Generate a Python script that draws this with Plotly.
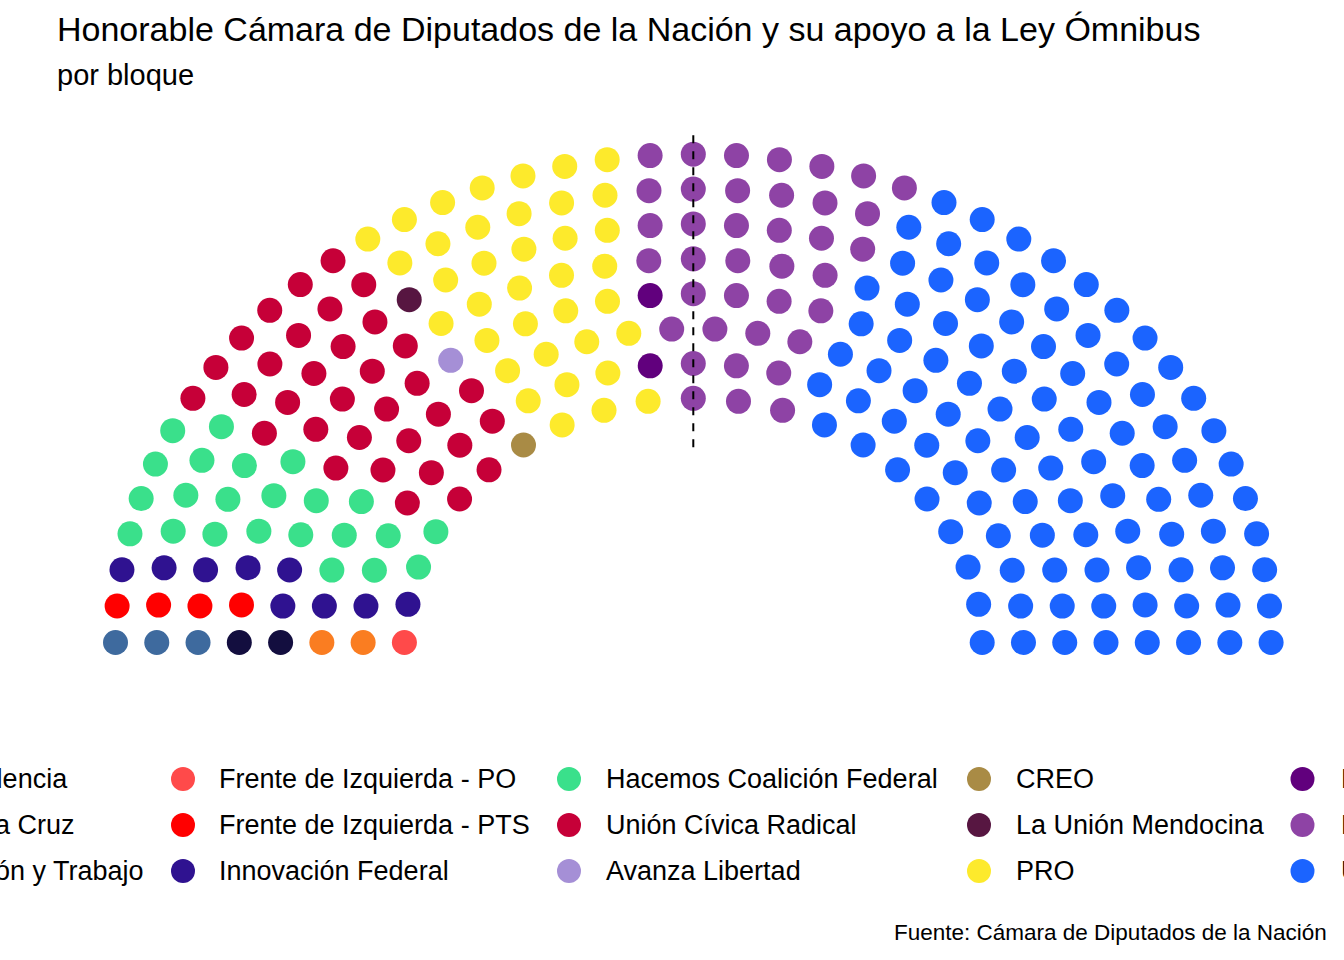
import numpy as np
import plotly.graph_objects as go

# ---------------- data ----------------
parties = [
    "Independencia", "Por Santa Cruz", "Producción y Trabajo",
    "Frente de Izquierda - PO", "Frente de Izquierda - PTS", "Innovación Federal",
    "Hacemos Coalición Federal", "Unión Cívica Radical", "Avanza Libertad",
    "CREO", "La Unión Mendocina", "PRO",
    "Libertad, Valores y Cambio", "La Libertad Avanza", "Unión por la Patria",
]
seats = [3, 2, 2, 1, 4, 9, 23, 34, 1, 1, 1, 37, 2, 38, 99]
colors = [
    "#3E6A9E", "#130E3F", "#FA7D21",
    "#FF4A4A", "#FF0000", "#2F1290",
    "#3AE08B", "#C60038", "#A58FD6",
    "#A98B45", "#571641", "#FDEA2C",
    "#61007D", "#8E43A5", "#1B64FF",
]
majority = 129
title = "Honorable Cámara de Diputados de la Nación y su apoyo a la Ley Ómnibus"
subtitle = "por bloque"
caption = "Fuente: Cámara de Diputados de la Nación"

# ---------------- semicircle parliament layout (ggparliament algorithm) ----------------
n_rows = 8
total = sum(seats)
radii = np.linspace(1, 2, n_rows)
remaining = total
xs, ys, rows, thetas = [], [], [], []
for i in range(n_rows):
    cnt = int(np.floor(remaining * radii[i] / radii[i:].sum() + 0.5))
    th = np.linspace(0, np.pi, cnt)
    remaining -= cnt
    xs.append(radii[i] * np.cos(th))
    ys.append(radii[i] * np.sin(th))
    rows.append(np.full(cnt, i + 1))
    thetas.append(th)
xs = np.concatenate(xs); ys = np.concatenate(ys)
rows = np.concatenate(rows); thetas = np.concatenate(thetas)
order = np.lexsort((-rows, -thetas))
xs = xs[order]; ys = ys[order]
party_idx = np.repeat(np.arange(len(parties)), seats)

fig = go.Figure()
for k, (p, c) in enumerate(zip(parties, colors)):
    m = party_idx == k
    fig.add_trace(go.Scatter(
        x=xs[m], y=ys[m], mode="markers", name=p,
        marker=dict(size=25, color=c, line=dict(width=0)),
        hoverinfo="name", showlegend=False,
    ))

# majority threshold line
fig.add_trace(go.Scatter(
    x=[0, 0], y=[0.8, 2.1], mode="lines",
    line=dict(color="black", width=2, dash="8px,8px"),
    hoverinfo="skip", showlegend=False,
))

W, H = 1344, 960
FONT = "Liberation Sans, Arial, sans-serif"

def px(x):
    return x / W

def py(y):
    return 1 - y / H

annotations = [
    dict(text=title, x=px(55), y=py(29), xref="paper", yref="paper",
         xanchor="left", yanchor="middle", showarrow=False,
         font=dict(family=FONT, size=34, color="black")),
    dict(text=subtitle, x=px(55), y=py(75), xref="paper", yref="paper",
         xanchor="left", yanchor="middle", showarrow=False,
         font=dict(family=FONT, size=29, color="black")),
    dict(text=caption, x=px(1329), y=py(932), xref="paper", yref="paper",
         xanchor="right", yanchor="middle", showarrow=False,
         font=dict(family=FONT, size=22.5, color="black")),
]

# manual legend: 3 rows, filled by column (cut off at both sides like the original)
key_x = [-148, 183, 569, 979, 1302.5]
text_x = [-112, 217, 604, 1014, 1339]
row_y = [779, 825, 871]
shapes = []
for k, (p, c) in enumerate(zip(parties, colors)):
    col, r = divmod(k, 3)
    shapes.append(dict(
        type="circle", xref="paper", yref="paper",
        xsizemode="pixel", ysizemode="pixel",
        xanchor=px(key_x[col]), yanchor=py(row_y[r]),
        x0=-12, x1=12, y0=-12, y1=12,
        fillcolor=c, line=dict(width=0), layer="above",
    ))
    annotations.append(dict(
        text=p, x=px(text_x[col]), y=py(row_y[r]), xref="paper", yref="paper",
        xanchor="left", yanchor="middle", showarrow=False,
        font=dict(family=FONT, size=27, color="black"),
    ))

cx, cy, sx, sy = 693.3, 642.5, 288.9, 244.15
fig.update_layout(
    width=W, height=H,
    margin=dict(l=0, r=0, t=0, b=0, pad=0),
    paper_bgcolor="white", plot_bgcolor="white",
    xaxis=dict(range=[(0 - cx) / sx, (W - cx) / sx], domain=[0, 1],
               visible=False, fixedrange=True),
    yaxis=dict(range=[(cy - H) / sy, cy / sy], domain=[0, 1],
               visible=False, fixedrange=True),
    annotations=annotations,
    shapes=shapes,
    showlegend=False,
)

fig.write_html("out.html")
